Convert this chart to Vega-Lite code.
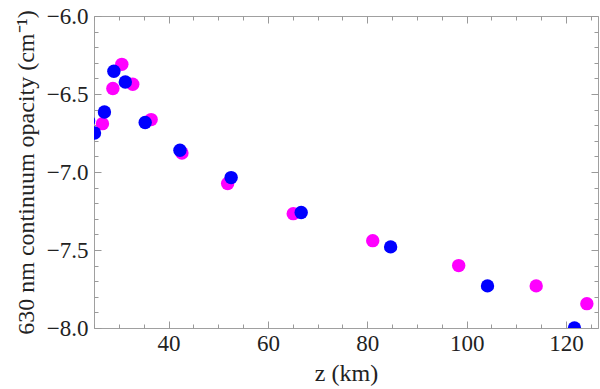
{
  "$schema": "https://vega.github.io/schema/vega-lite/v6.json",
  "autosize": {"type": "none"},
  "width": 504,
  "height": 312,
  "padding": {"left": 94, "top": 16, "right": 2, "bottom": 61},
  "background": "white",
  "config": {
    "view": {"stroke": "#a0a0a0", "strokeWidth": 1},
    "font": "Liberation Serif",
    "axis": {
      "domain": false,
      "ticks": true,
      "tickColor": "#999999",
      "tickWidth": 1,
      "labelFont": "Liberation Serif",
      "titleFont": "Liberation Serif",
      "labelFontSize": 23,
      "titleFontSize": 24,
      "labelColor": "#222",
      "titleColor": "#222",
      "titleFontWeight": "normal",
      "grid": false
    }
  },
  "data": {
    "values": [
      {"z": 26.7, "opacity": -6.69, "series": "a"},
      {"z": 28.8, "opacity": -6.465, "series": "a"},
      {"z": 30.6, "opacity": -6.31, "series": "a"},
      {"z": 32.8, "opacity": -6.438, "series": "a"},
      {"z": 36.5, "opacity": -6.664, "series": "a"},
      {"z": 42.7, "opacity": -6.878, "series": "a"},
      {"z": 51.9, "opacity": -7.074, "series": "a"},
      {"z": 65.1, "opacity": -7.267, "series": "a"},
      {"z": 81.1, "opacity": -7.44, "series": "a"},
      {"z": 98.4, "opacity": -7.6, "series": "a"},
      {"z": 114.0, "opacity": -7.73, "series": "a"},
      {"z": 124.2, "opacity": -7.844, "series": "a"},
      {"z": 23.9, "opacity": -6.673, "series": "b"},
      {"z": 25.1, "opacity": -6.75, "series": "b"},
      {"z": 27.1, "opacity": -6.615, "series": "b"},
      {"z": 29.0, "opacity": -6.354, "series": "b"},
      {"z": 31.3, "opacity": -6.423, "series": "b"},
      {"z": 35.3, "opacity": -6.683, "series": "b"},
      {"z": 42.3, "opacity": -6.861, "series": "b"},
      {"z": 52.6, "opacity": -7.036, "series": "b"},
      {"z": 66.7, "opacity": -7.26, "series": "b"},
      {"z": 84.7, "opacity": -7.48, "series": "b"},
      {"z": 104.2, "opacity": -7.73, "series": "b"},
      {"z": 121.7, "opacity": -8.0, "series": "b"}
    ]
  },
  "layer": [
    {
      "mark": {"type": "point", "opacity": 0},
      "encoding": {
        "x": {
          "field": "z", "type": "quantitative",
          "axis": {"orient": "bottom", "offset": -4, "title": null, "labels": false, "values": [25,30,35,45,50,55,65,70,75,85,90,95,105,110,115,125], "tickSize": 4}
        },
        "y": {
          "field": "opacity", "type": "quantitative",
          "axis": {"orient": "left", "offset": -4, "title": null, "labels": false, "values": [-7.9,-7.8,-7.7,-7.6,-7.4,-7.3,-7.2,-7.1,-6.9,-6.8,-6.7,-6.6,-6.4,-6.3,-6.2,-6.1], "tickSize": 4}
        }
      }
    },
    {
      "mark": {"type": "point", "opacity": 0},
      "encoding": {
        "x": {
          "field": "z", "type": "quantitative",
          "axis": {"orient": "top", "offset": -4, "title": null, "labels": false, "values": [25,30,35,45,50,55,65,70,75,85,90,95,105,110,115,125], "tickSize": 4}
        },
        "y": {
          "field": "opacity", "type": "quantitative",
          "axis": {"orient": "right", "offset": -4, "title": null, "labels": false, "values": [-7.9,-7.8,-7.7,-7.6,-7.4,-7.3,-7.2,-7.1,-6.9,-6.8,-6.7,-6.6,-6.4,-6.3,-6.2,-6.1], "tickSize": 4}
        }
      }
    },
    {
      "mark": {"type": "point", "opacity": 0},
      "encoding": {
        "x": {
          "field": "z", "type": "quantitative",
          "axis": {"orient": "top", "offset": -7, "title": null, "labels": false, "values": [40, 60, 80, 100, 120], "tickSize": 7}
        },
        "y": {
          "field": "opacity", "type": "quantitative",
          "axis": {"orient": "right", "offset": -7, "title": null, "labels": false, "values": [-8.0, -7.5, -7.0, -6.5, -6.0], "tickSize": 7}
        }
      }
    },
    {
      "mark": {"type": "point", "filled": true, "opacity": 1, "size": 180, "clip": true},
      "encoding": {
        "x": {
          "field": "z", "type": "quantitative",
          "scale": {"domain": [25, 126.44], "nice": false, "zero": false},
          "axis": {
            "orient": "bottom", "offset": -7, "title": "z (km)", "titlePadding": 6,
            "values": [40, 60, 80, 100, 120],
            "format": "d", "tickSize": 7, "labelPadding": 4
          }
        },
        "y": {
          "field": "opacity", "type": "quantitative",
          "scale": {"domain": [-8.0, -6.0], "nice": false, "zero": false},
          "axis": {
            "orient": "left", "offset": -7, "title": "630 nm continuum opacity (cm⁻¹)", "titlePadding": 8,
            "values": [-8.0, -7.5, -7.0, -6.5, -6.0],
            "format": ".1f", "tickSize": 7, "labelPadding": 6
          }
        },
        "color": {
          "field": "series", "type": "nominal",
          "scale": {"domain": ["a", "b"], "range": ["#ff00ff", "#0000ff"]},
          "legend": null
        }
      }
    }
  ],
  "resolve": {"axis": {"x": "independent", "y": "independent"}}
}
